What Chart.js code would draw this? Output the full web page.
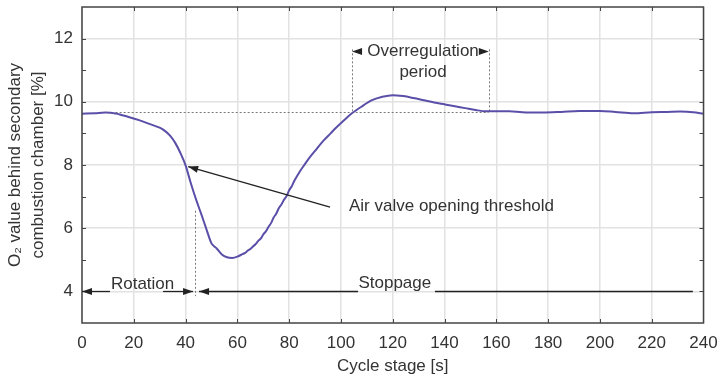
<!DOCTYPE html>
<html>
<head>
<meta charset="utf-8">
<script src="https://cdn.jsdelivr.net/npm/chart.js@4/dist/chart.umd.min.js"></script>
<style>
html,body{margin:0;padding:0;background:#fff;}
#c{display:block;}
</style>
</head>
<body>
<canvas id="c" width="724" height="377"></canvas>
<script>
// ---- data ----
const cycleTimes = [0,5,9,13,18,22,26,30,32,34,36,38,40,42,44,46,48,50,51,52,54,56,58,60,62,63,64,65,66,67,68,69,70,71,72,73,74,75,76,77,78,79,80,81,82,84,86,88,90,93,96,98,101,104,108,112,116,120,124,128,132,136,140,144,148,152,156,160,165,170,178,185,192,200,206,213,220,226,231,236,240];
const o2Values   = [9.62,9.64,9.66,9.63,9.52,9.42,9.30,9.18,9.08,8.93,8.70,8.38,7.99,7.43,6.92,6.46,5.98,5.52,5.43,5.36,5.17,5.08,5.06,5.10,5.18,5.22,5.29,5.34,5.42,5.49,5.59,5.67,5.80,5.90,6.04,6.16,6.34,6.46,6.63,6.75,6.90,7.02,7.20,7.33,7.50,7.78,8.02,8.25,8.45,8.75,9.00,9.17,9.40,9.62,9.85,10.05,10.16,10.21,10.18,10.12,10.05,9.98,9.92,9.86,9.80,9.74,9.70,9.70,9.70,9.67,9.66,9.68,9.71,9.71,9.68,9.64,9.67,9.68,9.69,9.67,9.62];

const xRange = [0, 240];
const yRange = [3, 13];
const yLabelValues = [4, 6, 8, 10, 12];

// annotation values (data space)
const referenceLevel = 9.67;
const referenceSpan = [13, 157];
const overregulationBounds = [104.3, 157.1];
const overregulationTop = 11.66;
const overregulationTextAt = [131.7, 11.59];
const periodTextAt = [131.7, 10.93];
const valveMarkTime = 43.8;
const valveMarkSpan = [3.85, 6.55];
const thresholdArrowFrom = [95.8, 6.67];
const thresholdArrowTo = [41.0, 7.95];
const thresholdTextAt = [103.1, 6.70];
const phaseLevel = 4;
const rotationTextAt = 23.4;
const stoppageTextAt = 120.8;
const rotationSegments = [[0, 10.8, 'start'], [31.3, 42.9, 'end']];
const stoppageSegments = [[45.2, 106.6, 'start'], [136.3, 235.9, 'none']];

const FONT = '"Liberation Sans", Arial, Helvetica, sans-serif';
const TXT = '#333333';

function arrowHead(ctx, tx, ty, fx, fy, len, hw) {
  const a = Math.atan2(ty - fy, tx - fx);
  ctx.beginPath();
  ctx.moveTo(tx, ty);
  ctx.lineTo(tx - len * Math.cos(a) + hw * Math.sin(a), ty - len * Math.sin(a) - hw * Math.cos(a));
  ctx.lineTo(tx - len * Math.cos(a) - hw * Math.sin(a), ty - len * Math.sin(a) + hw * Math.cos(a));
  ctx.closePath();
  ctx.fill();
}

const annotations = {
  id: 'annotations',
  beforeDatasetsDraw(chart) {
    const {ctx, chartArea: a, scales: {x, y}} = chart;
    ctx.save();
    ctx.strokeStyle = '#444';
    ctx.lineWidth = 1;
    for (let v = yRange[0] + 1; v < yRange[1]; v++) {
      const py = Math.round(y.getPixelForValue(v)) + 0.5;
      ctx.beginPath();
      ctx.moveTo(a.left, py); ctx.lineTo(a.left + 4, py);
      ctx.moveTo(a.right, py); ctx.lineTo(a.right - 4, py);
      ctx.stroke();
    }
    for (let t = xRange[0] + 20; t < xRange[1]; t += 20) {
      const px = Math.round(x.getPixelForValue(t)) + 0.5;
      ctx.beginPath();
      ctx.moveTo(px, a.top); ctx.lineTo(px, a.top + 4);
      ctx.moveTo(px, a.bottom); ctx.lineTo(px, a.bottom - 4);
      ctx.stroke();
    }
    ctx.strokeStyle = '#7a7a7a';
    ctx.lineWidth = 1;
    ctx.setLineDash([2, 2]);
    ctx.beginPath();
    ctx.moveTo(x.getPixelForValue(referenceSpan[0]), Math.round(y.getPixelForValue(referenceLevel)) + 0.5);
    ctx.lineTo(x.getPixelForValue(referenceSpan[1]), Math.round(y.getPixelForValue(referenceLevel)) + 0.5);
    overregulationBounds.forEach(t => {
      const px = Math.round(x.getPixelForValue(t)) + 0.5;
      ctx.moveTo(px, y.getPixelForValue(overregulationTop));
      ctx.lineTo(px, y.getPixelForValue(referenceLevel));
    });
    const vx = Math.round(x.getPixelForValue(valveMarkTime)) + 0.5;
    ctx.moveTo(vx, y.getPixelForValue(valveMarkSpan[1]));
    ctx.lineTo(vx, y.getPixelForValue(valveMarkSpan[0]));
    ctx.stroke();
    ctx.restore();
  },
  afterDatasetsDraw(chart) {
    const {ctx, chartArea: a, scales: {x, y}} = chart;
    ctx.save();
    ctx.strokeStyle = '#444';
    ctx.lineWidth = 1.5;
    ctx.strokeRect(a.left, a.top, a.right - a.left, a.bottom - a.top);

    ctx.fillStyle = '#222';
    ctx.strokeStyle = '#222';
    ctx.lineWidth = 1.3;
    const fx = x.getPixelForValue(thresholdArrowFrom[0]), fy = y.getPixelForValue(thresholdArrowFrom[1]);
    const tx = x.getPixelForValue(thresholdArrowTo[0]), ty = y.getPixelForValue(thresholdArrowTo[1]);
    ctx.beginPath(); ctx.moveTo(fx, fy); ctx.lineTo(tx, ty); ctx.stroke();
    arrowHead(ctx, tx, ty, fx, fy, 10, 3.5);

    const py = Math.round(y.getPixelForValue(phaseLevel)) + 0.5;
    [...rotationSegments, ...stoppageSegments].forEach(([s, e, head]) => {
      const xs = x.getPixelForValue(s), xe = x.getPixelForValue(e);
      ctx.beginPath(); ctx.moveTo(xs, py); ctx.lineTo(xe, py); ctx.stroke();
      if (head === 'start') arrowHead(ctx, xs, py, xe, py, 10, 3.5);
      if (head === 'end') arrowHead(ctx, xe, py, xs, py, 10, 3.5);
    });

    const oy = y.getPixelForValue(overregulationTextAt[1]);
    const ol = x.getPixelForValue(overregulationBounds[0]), orr = x.getPixelForValue(overregulationBounds[1]);
    arrowHead(ctx, ol, oy, ol + 10, oy, 10, 3.5);
    arrowHead(ctx, orr, oy, orr - 10, oy, 10, 3.5);

    ctx.font = '17px ' + FONT;
    ctx.fillStyle = TXT;
    ctx.textBaseline = 'middle';
    ctx.textAlign = 'center';
    ctx.fillText('Overregulation', x.getPixelForValue(overregulationTextAt[0]), oy);
    ctx.fillText('period', x.getPixelForValue(periodTextAt[0]), y.getPixelForValue(periodTextAt[1]));
    ctx.textAlign = 'left';
    ctx.fillText('Air valve opening threshold', x.getPixelForValue(thresholdTextAt[0]), y.getPixelForValue(thresholdTextAt[1]));
    ctx.textAlign = 'center';
    ctx.textBaseline = 'alphabetic';
    ctx.fillText('Rotation', x.getPixelForValue(rotationTextAt), py - 2.5);
    ctx.fillText('Stoppage', x.getPixelForValue(stoppageTextAt), py - 4);
    ctx.restore();
  }
};

new Chart(document.getElementById('c'), {
  type: 'line',
  data: {
    datasets: [{
      data: cycleTimes.map((t, i) => ({x: t, y: o2Values[i]})),
      borderColor: '#5a4fa8',
      borderWidth: 2,
      pointRadius: 0,
      cubicInterpolationMode: 'monotone',
      fill: false
    }]
  },
  options: {
    responsive: false,
    animation: false,
    layout: {padding: {top: 7, right: 20.5, left: 0, bottom: 0}},
    plugins: {legend: {display: false}, tooltip: {enabled: false}},
    scales: {
      x: {
        type: 'linear',
        min: xRange[0], max: xRange[1],
        ticks: {stepSize: 20, color: TXT, font: {size: 17, family: FONT}, padding: 10, maxRotation: 0},
        grid: {color: '#e2e2e2', lineWidth: 1.5, drawTicks: false},
        border: {display: false},
        title: {display: true, text: 'Cycle stage [s]', color: TXT, font: {size: 17, family: FONT}, padding: {top: 1, bottom: 0}},
        afterFit(s) { s.height = 54; s.paddingLeft = 0; s.paddingRight = 0; }
      },
      y: {
        min: yRange[0], max: yRange[1],
        ticks: {
          stepSize: 1, color: TXT, font: {size: 17, family: FONT}, padding: 9,
          callback: v => yLabelValues.includes(v) ? String(v) : ''
        },
        grid: {
          color: c => yLabelValues.includes(c.tick && c.tick.value) ? '#e2e2e2' : 'rgba(0,0,0,0)',
          lineWidth: 1.5, drawTicks: false
        },
        border: {display: false},
        title: {
          display: true,
          text: ['O\u2082 value behind secondary', 'combustion chamber [%]'],
          color: TXT, font: {size: 17, family: FONT, lineHeight: 1.35}, padding: {top: 4, bottom: 0}
        },
        afterFit(s) { s.width = 82; s.paddingTop = 0; s.paddingBottom = 0; }
      }
    }
  },
  plugins: [annotations]
});
</script>
</body>
</html>
